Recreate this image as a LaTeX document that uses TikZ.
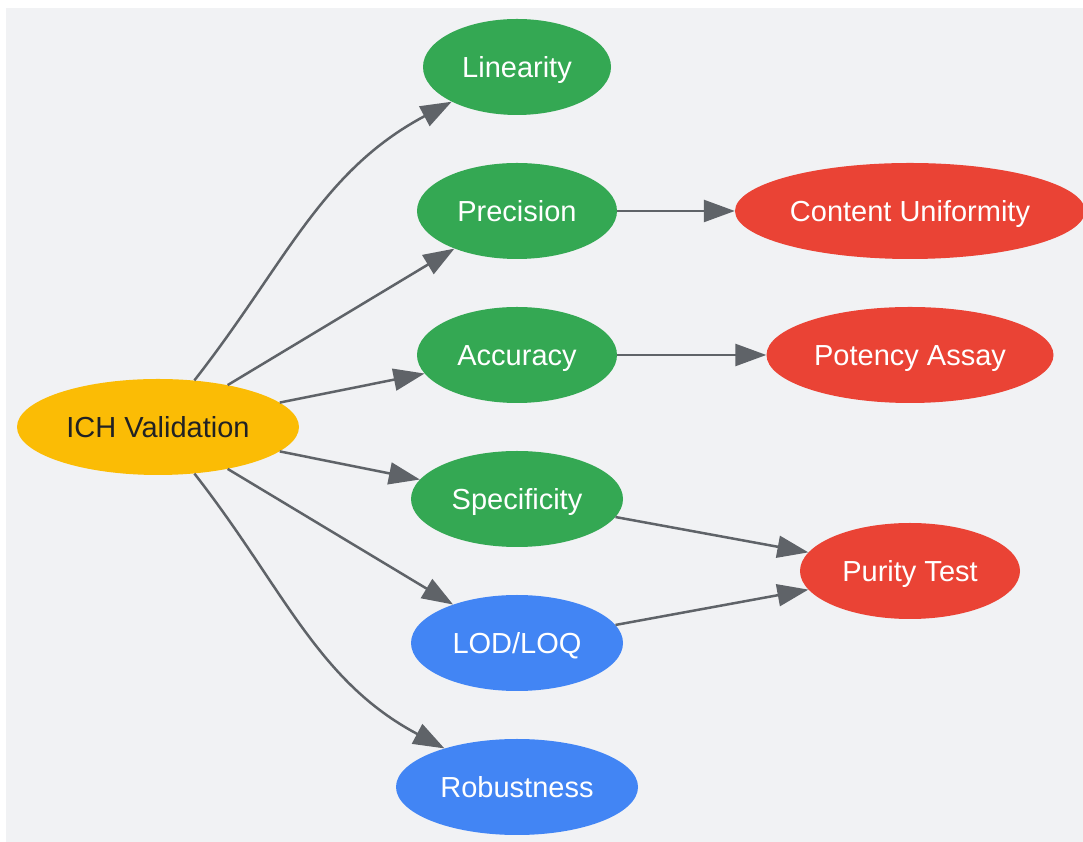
\documentclass[tikz,border=0pt]{standalone}
\usepackage{fontspec}
\setmainfont{Liberation Sans}
\usetikzlibrary{shapes.geometric,arrows.meta}
\definecolor{bggray}{HTML}{F1F2F4}
\definecolor{ggreen}{HTML}{34A853}
\definecolor{gred}{HTML}{EA4335}
\definecolor{gblue}{HTML}{4285F4}
\definecolor{gyellow}{HTML}{FBBC05}
\definecolor{edgegray}{HTML}{5F6368}
\definecolor{darktext}{HTML}{202124}
\begin{document}
\begin{tikzpicture}[x=1pt,y=1pt]

      \useasboundingbox (0,0) rectangle (1083,842);
      \fill[bggray] (6,0) rectangle (1083,834);

      \begin{scope}[every node/.style={ellipse,inner sep=0pt,minimum height=96pt,
          text height=26pt,text depth=5.5pt,
          text=white,font=\fontsize{29}{34}\selectfont}]
        \node[fill=gyellow,text=darktext,minimum width=282pt] (ich)  at (158,415) {ICH Validation};
        \node[fill=ggreen,minimum width=188pt] (lin)  at (517,775) {Linearity};
        \node[fill=ggreen,minimum width=200pt] (prec) at (517,631) {Precision};
        \node[fill=ggreen,minimum width=200pt] (acc)  at (517,487) {Accuracy};
        \node[fill=ggreen,minimum width=212pt] (spec) at (517,343) {Specificity};
        \node[fill=gblue,minimum width=212pt]  (lod)  at (517,199) {LOD/LOQ};
        \node[fill=gblue,minimum width=242pt]  (rob)  at (517,55)  {Robustness};
        \node[fill=gred,minimum width=350pt]   (cu)   at (910,631) {Content Uniformity};
        \node[fill=gred,minimum width=287pt]   (pot)  at (910,487) {Potency Assay};
        \node[fill=gred,minimum width=220pt]   (pur)  at (910,271) {Purity Test};
      \end{scope}

      \begin{scope}[every edge/.style={draw=edgegray,line width=2.5pt,
          -{Triangle[length=31pt,width=22pt]}}]
        \path (ich)  edge[out=52,in=208] (lin);
        \path (ich)  edge (prec);
        \path (ich)  edge (acc);
        \path (ich)  edge (spec);
        \path (ich)  edge (lod);
        \path (ich)  edge[out=-52,in=152] (rob);
        \path (prec) edge (cu);
        \path (acc)  edge (pot);
        \path (spec) edge (pur);
        \path (lod)  edge (pur);
      \end{scope}

    \end{tikzpicture}
\end{document}
